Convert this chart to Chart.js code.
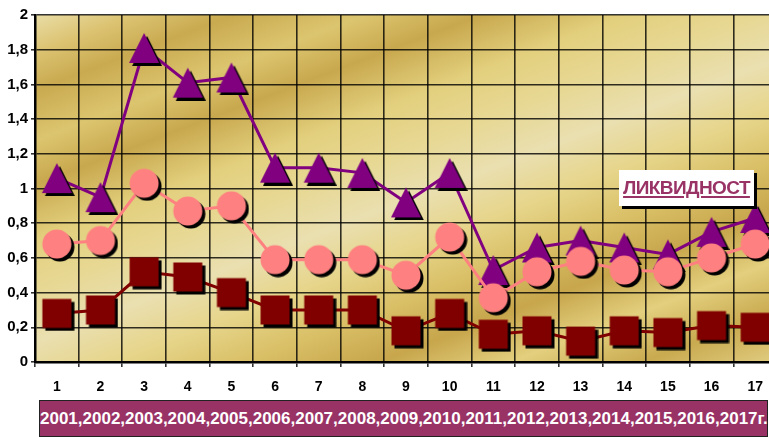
<!DOCTYPE html>
<html>
<head>
<meta charset="utf-8">
<script src="https://cdn.jsdelivr.net/npm/chart.js@4/dist/chart.umd.min.js"></script>
<style>
  html, body { margin: 0; padding: 0; background: #fff; width: 769px; height: 437px; overflow: hidden; }
  #wrap { position: absolute; left: 0; top: 0; width: 777px; height: 400px; }
  #legendBox {
    position: absolute; left: 619px; top: 170px; width: 135px; height: 36px;
    background: #fff; box-shadow: 3px 3px 0 #000;
    font-family: 'Liberation Sans', Arial, sans-serif; font-weight: bold; font-size: 19px;
    color: #993366; text-decoration: underline; text-decoration-thickness: 2px; text-underline-offset: 2px;
    line-height: 36px; text-align: center; letter-spacing: -0.6px;
  }
  #yearsBox {
    position: absolute; left: 39px; top: 400px; width: 727px; height: 35px;
    background: #993366; border: 1px solid #222;
    font-family: 'Liberation Sans', Arial, sans-serif; font-weight: bold; font-size: 17px;
    color: #fff; line-height: 35px; text-align: center; white-space: nowrap;
  }
</style>
</head>
<body>
<div id="wrap"><canvas id="c" width="777" height="400"></canvas></div>
<div id="legendBox">ЛИКВИДНОСТ</div>
<div id="yearsBox"></div>
<script>
const categories = ['1','2','3','4','5','6','7','8','9','10','11','12','13','14','15','16','17'];
const triangleValues = [1.06, 0.95, 1.81, 1.61, 1.64, 1.12, 1.12, 1.09, 0.92, 1.09, 0.53, 0.66, 0.70, 0.66, 0.62, 0.75, 0.83];
const circleValues   = [0.68, 0.70, 1.03, 0.87, 0.90, 0.59, 0.59, 0.59, 0.50, 0.72, 0.37, 0.52, 0.58, 0.53, 0.52, 0.60, 0.68];
const squareValues   = [0.28, 0.30, 0.52, 0.49, 0.40, 0.30, 0.30, 0.30, 0.18, 0.28, 0.16, 0.18, 0.12, 0.18, 0.17, 0.21, 0.20];
const yTickLabels = ['0','0,2','0,4','0,6','0,8','1','1,2','1,4','1,6','1,8','2'];
const legendLabel = 'ЛИКВИДНОСТ';
const yearsLabel = '2001,2002,2003,2004,2005,2006,2007,2008,2009,2010,2011,2012,2013,2014,2015,2016,2017г.';

document.getElementById('yearsBox').textContent = yearsLabel;
document.getElementById('legendBox').textContent = legendLabel;

function makeMarker(shape, color) {
  const c = document.createElement('canvas');
  c.width = 36; c.height = 36;
  const g = c.getContext('2d');
  const draw = (d, fill) => {
    g.fillStyle = fill;
    g.beginPath();
    if (shape === 'square') {
      g.rect(3.5 + d, 3.5 + d, 29, 29);
    } else if (shape === 'circle') {
      g.arc(18 + d, 18 + d, 14.5, 0, Math.PI * 2);
    } else {
      g.moveTo(18 + d, 3 + d);
      g.lineTo(33 + d, 33 + d);
      g.lineTo(3 + d, 33 + d);
      g.closePath();
    }
    g.fill();
  };
  draw(3, '#000');
  draw(0, color);
  return c;
}

const goldBackground = {
  id: 'goldBackground',
  beforeDraw(chart) {
    const a = chart.chartArea;
    const ctx = chart.ctx;
    const gr = ctx.createLinearGradient(a.left, a.top, a.left + 209, a.top + 549);
    gr.addColorStop(0.00, '#e9dda6');
    gr.addColorStop(0.06, '#dcc372');
    gr.addColorStop(0.12, '#c9aa50');
    gr.addColorStop(0.20, '#dcc56f');
    gr.addColorStop(0.27, '#c8a84e');
    gr.addColorStop(0.36, '#e3d07e');
    gr.addColorStop(0.44, '#e7d894');
    gr.addColorStop(0.52, '#eadfb0');
    gr.addColorStop(0.60, '#e6d58a');
    gr.addColorStop(0.68, '#d9bf66');
    gr.addColorStop(0.76, '#c7a64c');
    gr.addColorStop(0.84, '#e3cf7e');
    gr.addColorStop(0.92, '#c9aa50');
    gr.addColorStop(1.00, '#e0cc80');
    ctx.save();
    ctx.fillStyle = gr;
    ctx.fillRect(a.left, a.top, a.right - a.left, a.bottom - a.top);
    ctx.restore();
  }
};

const font = { family: "'Liberation Sans', Arial, sans-serif", weight: 'bold' };

new Chart(document.getElementById('c'), {
  type: 'line',
  data: {
    labels: categories,
    datasets: [
      {
        label: 'squares',
        data: squareValues,
        borderColor: '#800000',
        borderWidth: 3,
        pointStyle: makeMarker('square', '#800000'),
        pointRadius: 15,
        pointHoverRadius: 15,
        tension: 0,
        clip: false
      },
      {
        label: 'circles',
        data: circleValues,
        borderColor: '#ff8080',
        borderWidth: 3,
        pointStyle: makeMarker('circle', '#ff8080'),
        pointRadius: 15,
        pointHoverRadius: 15,
        tension: 0,
        clip: false
      },
      {
        label: legendLabel,
        data: triangleValues,
        borderColor: '#800080',
        borderWidth: 3,
        pointStyle: makeMarker('triangle', '#800080'),
        pointRadius: 15,
        pointHoverRadius: 15,
        tension: 0,
        clip: false
      }
    ]
  },
  options: {
    responsive: false,
    animation: false,
    devicePixelRatio: 1,
    layout: { autoPadding: false, padding: { top: 15, right: 0, left: 0, bottom: 0 } },
    plugins: { legend: { display: false }, tooltip: { enabled: false } },
    scales: {
      x: {
        offset: true,
        grid: { offset: true, color: 'rgba(0,0,0,0.8)', lineWidth: 1.6, tickLength: 5, drawOnChartArea: true },
        border: { color: '#000', width: 2.5 },
        ticks: { color: '#000', font: { ...font, size: 14 }, padding: 12, maxRotation: 0, autoSkip: false },
        afterFit(scale) { scale.height = 38; scale.paddingLeft = 0; scale.paddingRight = 0; }
      },
      y: {
        min: 0, max: 2,
        grid: { color: 'rgba(0,0,0,0.8)', lineWidth: 1.6, tickLength: 4 },
        border: { color: '#000', width: 2.5 },
        ticks: {
          stepSize: 0.2, color: '#000', font: { ...font, size: 15 }, padding: 3,
          callback: (v, i) => yTickLabels[i]
        },
        afterFit(scale) { scale.width = 35; scale.paddingTop = 0; scale.paddingBottom = 0; }
      }
    }
  },
  plugins: [goldBackground]
});
</script>
</body>
</html>
